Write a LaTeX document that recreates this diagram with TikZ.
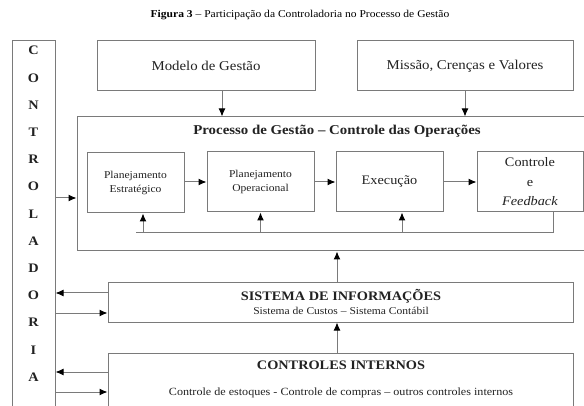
\documentclass[tikz,border=0pt]{standalone}
\usepackage{fontspec}
\setmainfont[FakeStretch=1.1]{Liberation Serif}
\usetikzlibrary{arrows.meta,calc}
\definecolor{lin}{HTML}{7A7A7A}
\definecolor{txt}{HTML}{222222}
\tikzset{
  box/.style={draw=lin, line width=1pt, inner sep=0pt, text=txt, align=center},
  arr/.style={draw=lin, line width=1pt, -{Latex[length=8pt,width=7pt,black]}},
  ln/.style={draw=lin, line width=1pt},
}
\begin{document}
\begin{tikzpicture}[x=1pt,y=-1pt]
\useasboundingbox (0,0) rectangle (584,406);
\clip (0,0) rectangle (584,406);
\fill[white] (0,0) rectangle (584,406);
% title
\node[text=black, font=\fontsize{10.5}{12}\selectfont] (title) at (300,15) {\textbf{Figura 3} – Participação da Controladoria no Processo de Gestão};
% controladoria
\node[box, minimum width=43, minimum height=379] (ctrl) at (33.5,230.5) {};
\node[text=txt, font=\fontsize{13}{27.2}\selectfont\bfseries, align=center, anchor=north, inner sep=0pt] (letters) at (33.5,46) {C\\O\\N\\T\\R\\O\\L\\A\\D\\O\\R\\I\\A};
% top boxes
\node[box, minimum width=218, minimum height=50, font=\fontsize{13.5}{15}\selectfont] (modelo) at (206,66) {Modelo de Gestão};
\node[box, minimum width=216, minimum height=50, font=\fontsize{13.5}{15}\selectfont] (missao) at (465,66) {Missão, Crenças e Valores};
% processo
\node[box, minimum width=513, minimum height=134] (proc) at (333.5,184) {};
\node[text=txt, font=\fontsize{13.5}{15}\selectfont\bfseries] (proctitle) at (337,131) {Processo de Gestão – Controle das Operações};
\node[box, minimum width=97, minimum height=60, font=\fontsize{10.5}{13.5}\selectfont] (pe) at (135.5,183) {Planejamento\\Estratégico};
\node[box, minimum width=107, minimum height=60, font=\fontsize{10.5}{13.5}\selectfont] (po) at (260.5,182) {Planejamento\\Operacional};
\node[box, minimum width=107, minimum height=60, font=\fontsize{13}{15}\selectfont] (ex) at (389.5,182) {Execução};
\node[box, minimum width=106, minimum height=60, font=\fontsize{13}{19.5}\selectfont] (cf) at (530,182) {Controle\\e\\\textit{Feedback}};
% sistema
\node[box, minimum width=465, minimum height=39] (si) at (340.5,302.5) {};
\node[text=txt, font=\fontsize{13}{14}\selectfont\bfseries, inner sep=0pt] (sititle) at (341,296) {SISTEMA DE INFORMAÇÕES};
\node[text=txt, font=\fontsize{10.5}{11}\selectfont, inner sep=0pt] (sisub) at (341,311) {Sistema de Custos – Sistema Contábil};
% controles internos
\node[box, minimum width=465, minimum height=67] (ci) at (340.5,386.5) {};
\node[text=txt, font=\fontsize{13}{14}\selectfont\bfseries, inner sep=0pt] (cititle) at (341,365) {CONTROLES INTERNOS};
\node[text=txt, font=\fontsize{11}{12}\selectfont, inner sep=0pt] (cisub) at (341,393) {Controle de estoques - Controle de compras – outros controles internos};
% arrows top
\draw[arr] ([xshift=16pt]modelo.south) -- ([xshift=16pt]modelo.south |- proc.north);
\draw[arr] (missao.south) -- (missao.south |- proc.north);
% process chain
\draw[arr] (pe.east |- po.west) -- (po.west);
\draw[arr] (po.east) -- (ex.west);
\draw[arr] (ex.east) -- (cf.west);
% feedback loop
\coordinate (fbR) at ([xshift=23pt]cf.south);
\coordinate (fbB) at (553,233);
\draw[ln] (fbR) -- (fbB) -- (fbB -| pe.south);
\draw[arr] ([xshift=7.5pt]pe.south |- fbB) -- ([xshift=7.5pt]pe.south);
\draw[ln] ([xshift=7.5pt]pe.south |- fbB) -- (fbB -| pe.south);
\draw[arr] (po.south |- fbB) -- (po.south);
\draw[arr] ([xshift=12.5pt]ex.south |- fbB) -- ([xshift=12.5pt]ex.south);
% vertical arrows
\draw[arr] ([xshift=-3.5pt]si.north) -- ([xshift=-3.5pt]si.north |- proc.south);
\draw[arr] ([xshift=-3.5pt]ci.north) -- ([xshift=-3.5pt]ci.north |- si.south);
% controladoria arrows
\draw[arr] (ctrl.east |- 0,198) -- (proc.west |- 0,198);
\draw[arr] (si.west |- 0,293) -- (ctrl.east |- 0,293);
\draw[arr] (ctrl.east |- 0,313) -- (si.west |- 0,313);
\draw[arr] (ci.west |- 0,372) -- (ctrl.east |- 0,372);
\draw[arr] (ctrl.east |- 0,392) -- (ci.west |- 0,392);
\end{tikzpicture}
\end{document}
